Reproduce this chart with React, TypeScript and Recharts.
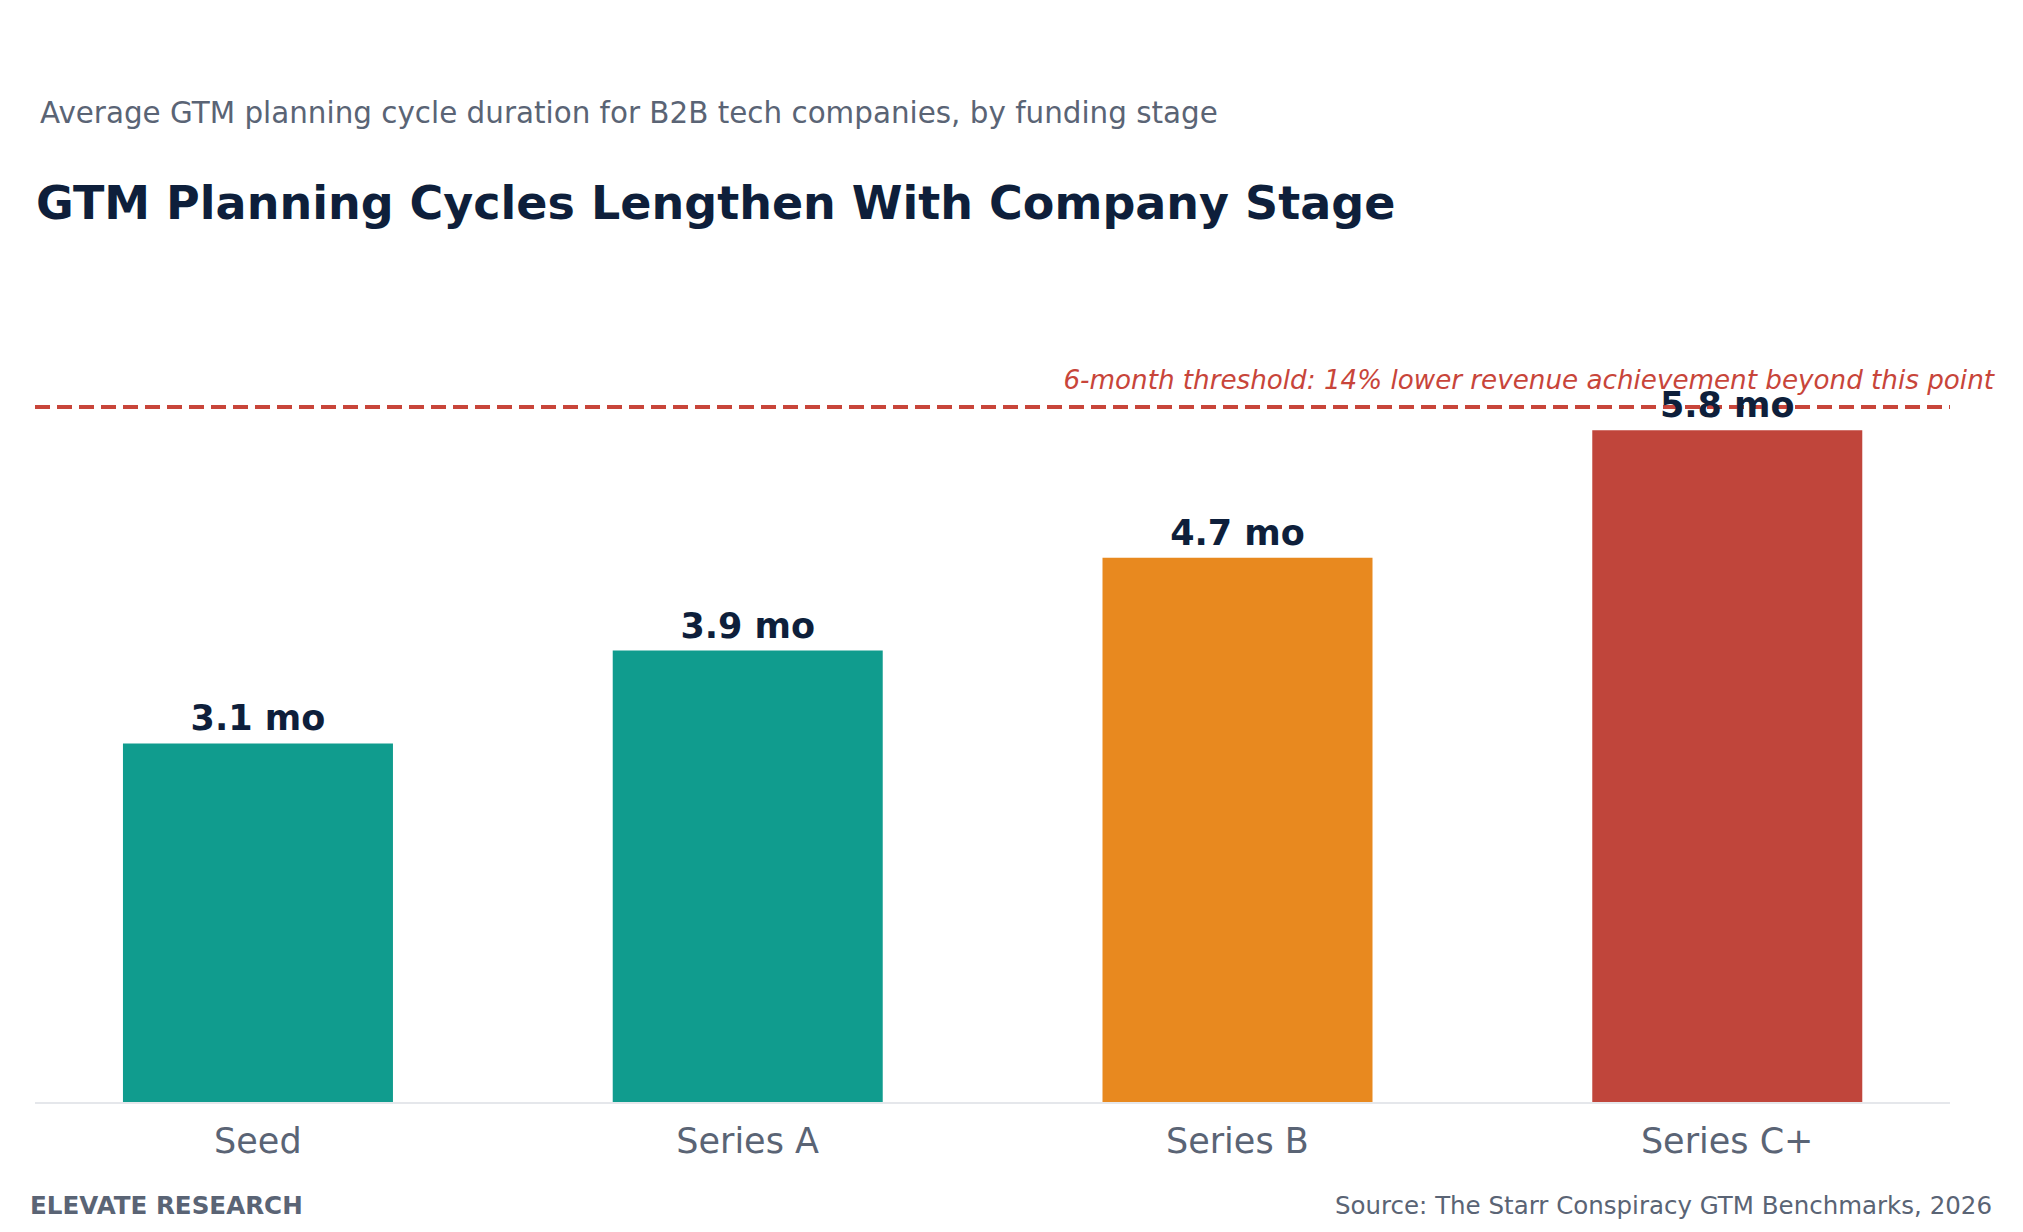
import React from "react";
import {
  BarChart,
  Bar,
  XAxis,
  YAxis,
  Cell,
  LabelList,
  ReferenceLine,
} from "recharts";

const stages = ["Seed", "Series A", "Series B", "Series C+"];
const months = [3.1, 3.9, 4.7, 5.8];
const barColors = ["#109c8e", "#109c8e", "#e8891f", "#c0453b"];
const thresholdMonths = 6;
const thresholdNote =
  "6-month threshold: 14% lower revenue achievement beyond this point";

const FONT = "'DejaVu Sans', sans-serif";
const NAVY = "#0e1f3b";
const GRAY = "#5a6475";
const RED = "#c8453a";

const data = stages.map((stage, i) => ({ pos: i, stage, months: months[i] }));

const ValueLabel = (props: any) => {
  const { x, y, width, value } = props;
  return (
    <text
      x={x + width / 2}
      y={y - 13}
      textAnchor="middle"
      fontFamily={FONT}
      fontSize={35}
      fontWeight="bold"
      fill={NAVY}
    >
      {`${value} mo`}
    </text>
  );
};

const ThresholdLabel = (props: any) => {
  const vb = props.viewBox;
  return (
    <text
      x={vb.x + vb.width + 44}
      y={vb.y - 18}
      textAnchor="end"
      fontFamily={FONT}
      fontSize={26.2}
      fontStyle="italic"
      fill={RED}
    >
      {thresholdNote}
    </text>
  );
};

export default function App() {
  return (
    <div
      style={{
        position: "absolute",
        left: 0,
        top: 0,
        width: 2023,
        height: 1232,
        background: "#ffffff",
      }}
    >
      <BarChart
        width={2023}
        height={1232}
        data={data}
        margin={{ top: 291, right: 73, bottom: 69, left: 35 }}
      >
        <YAxis type="number" domain={[0, 7]} hide />
        <XAxis
          dataKey="pos"
          type="number"
          domain={[-0.455, 3.455]}
          ticks={[0, 1, 2, 3]}
          interval={0}
          allowDataOverflow
          height={60}
          tickFormatter={(v) => stages[v]}
          axisLine={{ stroke: "#e5e7eb", strokeWidth: 2 }}
          tickLine={false}
          tickSize={0}
          tickMargin={25}
          tick={{ fill: GRAY, fontSize: 35, fontFamily: FONT }}
        />
        <ReferenceLine
          y={thresholdMonths}
          stroke={RED}
          strokeWidth={4}
          strokeDasharray="15 7"
          label={ThresholdLabel}
        />
        <Bar dataKey="months" barSize={270} isAnimationActive={false}>
          {data.map((d, i) => (
            <Cell key={d.stage} fill={barColors[i]} />
          ))}
          <LabelList dataKey="months" content={ValueLabel} />
        </Bar>
      </BarChart>
      <svg
        width={2023}
        height={1232}
        style={{ position: "absolute", left: 0, top: 0, pointerEvents: "none" }}
      >
        <text x={40} y={123} fontFamily={FONT} fontSize={29.4} fill={GRAY}>
          Average GTM planning cycle duration for B2B tech companies, by funding
          stage
        </text>
        <text
          x={36}
          y={219}
          fontFamily={FONT}
          fontSize={46}
          fontWeight="bold"
          fill={NAVY}
        >
          GTM Planning Cycles Lengthen With Company Stage
        </text>
        <text
          x={30}
          y={1214}
          fontFamily={FONT}
          fontSize={24.6}
          fontWeight="bold"
          fill={GRAY}
        >
          ELEVATE RESEARCH
        </text>
        <text
          x={1992}
          y={1214}
          textAnchor="end"
          fontFamily={FONT}
          fontSize={24.5}
          fill={GRAY}
        >
          Source: The Starr Conspiracy GTM Benchmarks, 2026
        </text>
      </svg>
    </div>
  );
}
